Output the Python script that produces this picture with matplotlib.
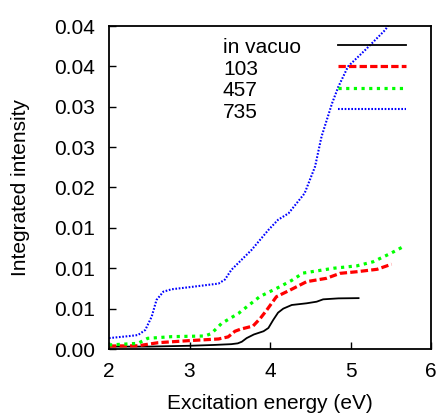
import matplotlib
matplotlib.use("Agg")
import matplotlib.pyplot as plt
from matplotlib.lines import Line2D

plt.rcParams['font.family'] = ['Liberation Sans', 'DejaVu Sans']
plt.rcParams['font.size'] = 15

# Excitation energy (eV) / integrated intensity per environment
x_vacuo = [2.00, 2.50, 3.00, 3.30, 3.52, 3.60, 3.65, 3.71, 3.80, 3.92, 3.98,
           4.04, 4.10, 4.165, 4.27, 4.455, 4.58, 4.66, 4.85, 5.10]
y_vacuo = [0.0003, 0.0003, 0.0004, 0.0005, 0.0006, 0.0007, 0.0009, 0.00135,
           0.0018, 0.0022, 0.0026, 0.0036, 0.0045, 0.0050, 0.00545, 0.00566,
           0.00586, 0.00615, 0.00627, 0.00630]

x_103 = [2.00, 2.36, 2.61, 2.985, 3.36, 3.48, 3.565, 3.63, 3.79, 3.88, 3.96,
         4.08, 4.25, 4.455, 4.70, 4.87, 5.08, 5.33, 5.51]
y_103 = [0.00037, 0.0004, 0.00078, 0.00103, 0.00124, 0.0015, 0.0022, 0.00244,
         0.00285, 0.0038, 0.00483, 0.00648, 0.0073, 0.00834, 0.00875, 0.00937,
         0.00957, 0.00987, 0.0105]

x_457 = [2.00, 2.36, 2.48, 2.78, 3.19, 3.27, 3.40, 3.61, 3.67, 3.875, 4.12,
         4.27, 4.41, 4.79, 5.08, 5.28, 5.49, 5.66]
y_457 = [0.0005, 0.0007, 0.00132, 0.00153, 0.00161, 0.0019, 0.00318, 0.00442,
         0.0049, 0.0065, 0.0077, 0.0085, 0.0094, 0.0100, 0.0103, 0.0108,
         0.0118, 0.0127]

x_735 = [2.00, 2.25, 2.36, 2.45, 2.53, 2.59, 2.675, 2.78, 2.985, 3.36, 3.44,
         3.52, 3.77, 3.98, 4.10, 4.23, 4.43, 4.56, 4.64, 4.77, 4.85, 4.97,
         5.18, 5.43, 5.50]
y_735 = [0.00135, 0.0016, 0.00173, 0.00235, 0.0040, 0.00607, 0.0071, 0.0074,
         0.00764, 0.0081, 0.0086, 0.0098, 0.01226, 0.01474, 0.0160, 0.0168,
         0.01928, 0.0226, 0.0263, 0.0304, 0.0325, 0.0350, 0.0370, 0.0395,
         0.0405]

labels = ['in vacuo', '103', '457', '735']

y_ticks = [0.0, 0.005, 0.010, 0.015, 0.020, 0.025, 0.030, 0.035, 0.040]
x_ticks = [2, 3, 4, 5, 6]

styles = [
    dict(color='black', lw=1.3),
    dict(color='#ff0000', lw=2.3, dashes=(2.3, 1.0)),
    dict(color='#00ff00', lw=2.3, dashes=(1.0, 1.4)),
    dict(color='#0000ff', lw=1.5, dashes=(0.8, 0.8)),
]

fig = plt.figure(figsize=(4.41, 4.15), dpi=100)
ax = fig.add_axes([109 / 441, 66 / 415, 322 / 441, 323 / 415])

series = [(x_vacuo, y_vacuo), (x_103, y_103), (x_457, y_457), (x_735, y_735)]
for (xs, ys), st in zip(series, styles):
    ax.plot(xs, ys, **st)

ax.set_xlim(2, 6)
ax.set_ylim(0, 0.04)
ax.set_xticks(x_ticks)
ax.set_yticks(y_ticks)
ax.set_yticklabels(['%.2f' % v for v in y_ticks])
ax.tick_params(direction='in', length=5, width=1.0, top=False, right=False)
ax.tick_params(axis='y', pad=10)
ax.tick_params(axis='x', pad=9)
for s in ax.spines.values():
    s.set_linewidth(1.3)

ax.set_xlabel('Excitation energy (eV)', labelpad=10)
ax.set_ylabel('Integrated intensity', labelpad=17)

# key: left-aligned labels, line samples in a column to the right
text_x, line_x0, line_x1 = 0.354, 0.711, 0.922
row0_text, row0_line, pitch = 0.9155, 0.941, 0.0663
for i, (lab, st) in enumerate(zip(labels, styles)):
    ax.text(text_x, row0_text - i * pitch, lab, transform=ax.transAxes,
            ha='left', va='baseline')
    ax.add_line(Line2D([line_x0, line_x1],
                       [row0_line - i * pitch, row0_line - i * pitch],
                       transform=ax.transAxes, **st))

fig.savefig('out.png', dpi=100)
